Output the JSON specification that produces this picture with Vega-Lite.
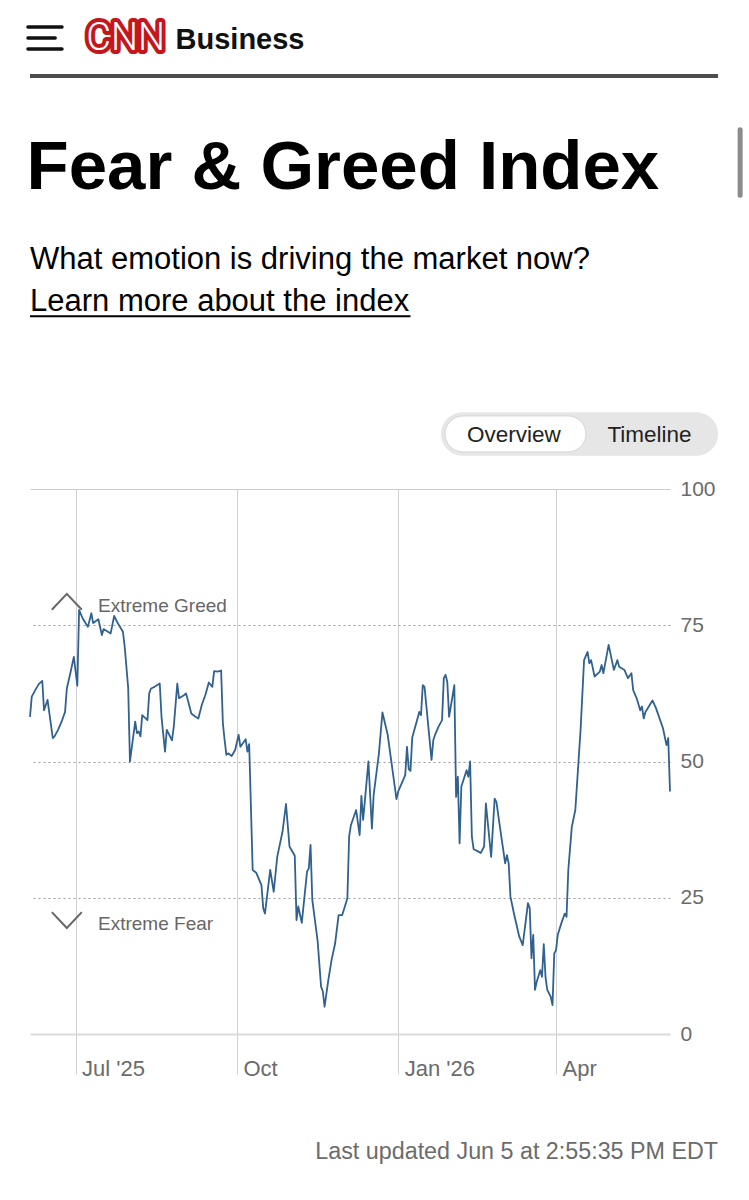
{
  "$schema": "https://vega.github.io/schema/vega-lite/v6.json",
  "width": 640,
  "height": 545,
  "autosize": {"type": "none"},
  "padding": {"left": 30, "top": 489, "right": 79, "bottom": 166},
  "background": "#ffffff",
  "config": {"font": "Liberation Sans", "view": {"stroke": null}},
  "layer": [
    {
      "data": {"values": [
        {"date": "2025-06-05", "value": 58.2}, {"date": "2025-06-06", "value": 61.9}, {"date": "2025-06-08", "value": 63.1},
        {"date": "2025-06-10", "value": 64.2}, {"date": "2025-06-12", "value": 64.8}, {"date": "2025-06-13", "value": 59.4},
        {"date": "2025-06-15", "value": 61.3}, {"date": "2025-06-18", "value": 54.3}, {"date": "2025-06-19", "value": 54.6},
        {"date": "2025-06-21", "value": 55.8}, {"date": "2025-06-23", "value": 57.3}, {"date": "2025-06-25", "value": 59.1},
        {"date": "2025-06-26", "value": 63.4}, {"date": "2025-06-28", "value": 66.2}, {"date": "2025-06-30", "value": 69.2},
        {"date": "2025-07-02", "value": 63.9}, {"date": "2025-07-03", "value": 77.8}, {"date": "2025-07-05", "value": 76.3},
        {"date": "2025-07-08", "value": 74.7}, {"date": "2025-07-10", "value": 77.2}, {"date": "2025-07-11", "value": 75.4},
        {"date": "2025-07-14", "value": 76.1}, {"date": "2025-07-16", "value": 73.2}, {"date": "2025-07-17", "value": 74.3},
        {"date": "2025-07-21", "value": 73.5}, {"date": "2025-07-23", "value": 76.7}, {"date": "2025-07-25", "value": 75.4},
        {"date": "2025-07-28", "value": 73.8}, {"date": "2025-07-29", "value": 71.1}, {"date": "2025-07-31", "value": 63.5},
        {"date": "2025-08-01", "value": 50.0}, {"date": "2025-08-04", "value": 57.3}, {"date": "2025-08-05", "value": 55.2},
        {"date": "2025-08-06", "value": 55.5}, {"date": "2025-08-07", "value": 54.6}, {"date": "2025-08-08", "value": 58.5},
        {"date": "2025-08-11", "value": 57.6}, {"date": "2025-08-12", "value": 62.5}, {"date": "2025-08-13", "value": 63.4},
        {"date": "2025-08-15", "value": 63.7}, {"date": "2025-08-18", "value": 64.3}, {"date": "2025-08-19", "value": 58.2},
        {"date": "2025-08-21", "value": 51.8}, {"date": "2025-08-22", "value": 55.8}, {"date": "2025-08-25", "value": 53.9},
        {"date": "2025-08-26", "value": 56.4}, {"date": "2025-08-28", "value": 64.3}, {"date": "2025-08-29", "value": 61.6},
        {"date": "2025-09-01", "value": 62.2}, {"date": "2025-09-02", "value": 62.5}, {"date": "2025-09-03", "value": 61.3},
        {"date": "2025-09-05", "value": 58.8}, {"date": "2025-09-07", "value": 58.3}, {"date": "2025-09-09", "value": 57.9},
        {"date": "2025-09-11", "value": 60.4}, {"date": "2025-09-13", "value": 62.2}, {"date": "2025-09-15", "value": 64.5},
        {"date": "2025-09-17", "value": 63.7}, {"date": "2025-09-18", "value": 66.6}, {"date": "2025-09-20", "value": 66.5},
        {"date": "2025-09-22", "value": 66.7}, {"date": "2025-09-23", "value": 57.0}, {"date": "2025-09-24", "value": 53.9},
        {"date": "2025-09-25", "value": 51.2}, {"date": "2025-09-26", "value": 51.5}, {"date": "2025-09-28", "value": 51.0},
        {"date": "2025-09-30", "value": 52.1}, {"date": "2025-10-02", "value": 54.9}, {"date": "2025-10-03", "value": 52.7},
        {"date": "2025-10-06", "value": 54.1}, {"date": "2025-10-07", "value": 51.8}, {"date": "2025-10-08", "value": 53.2},
        {"date": "2025-10-10", "value": 30.1}, {"date": "2025-10-12", "value": 29.6}, {"date": "2025-10-15", "value": 27.3},
        {"date": "2025-10-16", "value": 23.1}, {"date": "2025-10-17", "value": 22.1}, {"date": "2025-10-20", "value": 30.1},
        {"date": "2025-10-22", "value": 26.1}, {"date": "2025-10-24", "value": 32.5}, {"date": "2025-10-27", "value": 37.1},
        {"date": "2025-10-29", "value": 42.2}, {"date": "2025-10-31", "value": 34.4}, {"date": "2025-11-03", "value": 32.7},
        {"date": "2025-11-04", "value": 20.9}, {"date": "2025-11-05", "value": 23.4}, {"date": "2025-11-07", "value": 20.4},
        {"date": "2025-11-10", "value": 29.8}, {"date": "2025-11-11", "value": 30.4}, {"date": "2025-11-12", "value": 34.7},
        {"date": "2025-11-13", "value": 24.6}, {"date": "2025-11-16", "value": 17.2}, {"date": "2025-11-18", "value": 8.7},
        {"date": "2025-11-19", "value": 7.8}, {"date": "2025-11-20", "value": 5.0}, {"date": "2025-11-22", "value": 9.6},
        {"date": "2025-11-24", "value": 13.6}, {"date": "2025-11-26", "value": 16.6}, {"date": "2025-11-28", "value": 21.8},
        {"date": "2025-11-30", "value": 21.8}, {"date": "2025-12-01", "value": 22.8}, {"date": "2025-12-03", "value": 24.9},
        {"date": "2025-12-04", "value": 36.2}, {"date": "2025-12-05", "value": 38.3}, {"date": "2025-12-08", "value": 41.1},
        {"date": "2025-12-10", "value": 36.5}, {"date": "2025-12-11", "value": 43.7}, {"date": "2025-12-12", "value": 39.3},
        {"date": "2025-12-15", "value": 50.0}, {"date": "2025-12-17", "value": 37.7}, {"date": "2025-12-18", "value": 43.9},
        {"date": "2025-12-21", "value": 51.5}, {"date": "2025-12-23", "value": 59.0}, {"date": "2025-12-26", "value": 54.9},
        {"date": "2025-12-31", "value": 43.1}, {"date": "2026-01-01", "value": 44.5}, {"date": "2026-01-05", "value": 47.5},
        {"date": "2026-01-06", "value": 52.7}, {"date": "2026-01-07", "value": 48.6}, {"date": "2026-01-08", "value": 48.3},
        {"date": "2026-01-09", "value": 54.4}, {"date": "2026-01-12", "value": 57.9}, {"date": "2026-01-13", "value": 59.1},
        {"date": "2026-01-14", "value": 58.5}, {"date": "2026-01-15", "value": 64.0}, {"date": "2026-01-16", "value": 63.7},
        {"date": "2026-01-20", "value": 50.3}, {"date": "2026-01-21", "value": 53.9}, {"date": "2026-01-22", "value": 54.9},
        {"date": "2026-01-24", "value": 56.4}, {"date": "2026-01-26", "value": 57.6}, {"date": "2026-01-27", "value": 65.3},
        {"date": "2026-01-28", "value": 65.9}, {"date": "2026-01-29", "value": 64.6}, {"date": "2026-01-30", "value": 58.2},
        {"date": "2026-02-02", "value": 64.0}, {"date": "2026-02-03", "value": 43.5}, {"date": "2026-02-04", "value": 47.2},
        {"date": "2026-02-05", "value": 35.0}, {"date": "2026-02-06", "value": 45.4}, {"date": "2026-02-09", "value": 48.4},
        {"date": "2026-02-10", "value": 47.2}, {"date": "2026-02-11", "value": 50.0}, {"date": "2026-02-12", "value": 36.2},
        {"date": "2026-02-13", "value": 33.9}, {"date": "2026-02-15", "value": 33.6}, {"date": "2026-02-17", "value": 33.2},
        {"date": "2026-02-19", "value": 34.4}, {"date": "2026-02-20", "value": 42.3}, {"date": "2026-02-23", "value": 32.5},
        {"date": "2026-02-25", "value": 43.2}, {"date": "2026-02-26", "value": 42.6}, {"date": "2026-02-28", "value": 38.0},
        {"date": "2026-03-03", "value": 31.3}, {"date": "2026-03-04", "value": 32.8}, {"date": "2026-03-05", "value": 31.3},
        {"date": "2026-03-06", "value": 25.2}, {"date": "2026-03-08", "value": 22.1}, {"date": "2026-03-11", "value": 17.9},
        {"date": "2026-03-13", "value": 16.3}, {"date": "2026-03-16", "value": 24.0}, {"date": "2026-03-17", "value": 23.1},
        {"date": "2026-03-18", "value": 13.9}, {"date": "2026-03-19", "value": 18.2}, {"date": "2026-03-20", "value": 8.1},
        {"date": "2026-03-21", "value": 9.6}, {"date": "2026-03-23", "value": 11.7}, {"date": "2026-03-24", "value": 10.5},
        {"date": "2026-03-25", "value": 16.5}, {"date": "2026-03-26", "value": 10.5}, {"date": "2026-03-27", "value": 8.1},
        {"date": "2026-03-29", "value": 6.8}, {"date": "2026-03-30", "value": 5.3}, {"date": "2026-03-31", "value": 14.8},
        {"date": "2026-04-01", "value": 15.4}, {"date": "2026-04-02", "value": 18.2}, {"date": "2026-04-04", "value": 20.3},
        {"date": "2026-04-06", "value": 22.1}, {"date": "2026-04-07", "value": 21.5}, {"date": "2026-04-08", "value": 30.1},
        {"date": "2026-04-10", "value": 38.0}, {"date": "2026-04-12", "value": 41.1}, {"date": "2026-04-15", "value": 55.8},
        {"date": "2026-04-17", "value": 68.6}, {"date": "2026-04-19", "value": 70.1}, {"date": "2026-04-20", "value": 68.0},
        {"date": "2026-04-21", "value": 68.6}, {"date": "2026-04-23", "value": 65.6}, {"date": "2026-04-26", "value": 66.5},
        {"date": "2026-04-27", "value": 67.7}, {"date": "2026-04-28", "value": 66.2}, {"date": "2026-05-01", "value": 71.4},
        {"date": "2026-05-04", "value": 66.8}, {"date": "2026-05-06", "value": 68.6}, {"date": "2026-05-07", "value": 67.4},
        {"date": "2026-05-10", "value": 66.8}, {"date": "2026-05-12", "value": 65.3}, {"date": "2026-05-14", "value": 66.2},
        {"date": "2026-05-15", "value": 63.1}, {"date": "2026-05-17", "value": 61.6}, {"date": "2026-05-19", "value": 59.4},
        {"date": "2026-05-20", "value": 60.1}, {"date": "2026-05-21", "value": 57.9}, {"date": "2026-05-22", "value": 59.1},
        {"date": "2026-05-26", "value": 61.2}, {"date": "2026-05-28", "value": 59.8}, {"date": "2026-06-01", "value": 56.1},
        {"date": "2026-06-03", "value": 53.0}, {"date": "2026-06-04", "value": 54.3}, {"date": "2026-06-05", "value": 44.5}
      ]},
      "mark": {"type": "line", "color": "#30618f", "strokeWidth": 1.8, "strokeJoin": "round"},
      "encoding": {
        "x": {
          "field": "date", "type": "temporal",
          "scale": {"type": "utc", "domain": [{"year": 2025, "month": 6, "date": 5, "utc": true}, {"year": 2026, "month": 6, "date": 5, "utc": true}]},
          "axis": {
            "title": null,
            "values": [
              {"year": 2025, "month": 7, "date": 1, "utc": true},
              {"year": 2025, "month": 10, "date": 1, "utc": true},
              {"year": 2026, "month": 1, "date": 1, "utc": true},
              {"year": 2026, "month": 4, "date": 1, "utc": true}
            ],
            "labelExpr": "utcFormat(datum.value, '%b') + (utcmonth(datum.value) % 6 == 0 ? \" '\" + utcFormat(datum.value, '%y') : '')",
            "grid": true, "gridColor": "#d0d0d0", "gridWidth": 1,
            "domain": true, "domainColor": "#dadada", "domainWidth": 2,
            "ticks": true, "tickSize": 40, "tickColor": "#d0d0d0", "tickWidth": 1,
            "labelAlign": "left", "labelBaseline": "alphabetic", "labelPadding": 1, "labelOffset": 6,
            "labelFontSize": 22, "labelColor": "#6b6b6b", "labelFlush": false, "labelOverlap": false
          }
        },
        "y": {
          "field": "value", "type": "quantitative",
          "scale": {"domain": [0, 100], "nice": false, "zero": false},
          "axis": {
            "title": null, "orient": "right", "values": [0, 25, 50, 75, 100],
            "domain": false, "ticks": false, "labelPadding": 10,
            "labelFontSize": 21, "labelColor": "#6b6b6b", "labelAlign": "left", "labelBaseline": "middle", "labelFlush": false,
            "grid": true,
            "gridColor": {"condition": {"test": "datum.value === 100", "value": "#cccccc"}, "value": "#9c9c9c"},
            "gridDash": {"condition": {"test": "datum.value === 100", "value": []}, "value": [2, 3]},
            "gridOpacity": {"condition": {"test": "datum.value === 0", "value": 0}, "value": 1}
          }
        }
      }
    },
    {
      "data": {"values": [{}]},
      "mark": {"type": "point", "shape": "M-1,0.53L0,-0.53L1,0.53", "size": 900, "filled": false, "stroke": "#666666", "strokeWidth": 2, "opacity": 1},
      "encoding": {
        "x": {"datum": {"year": 2025, "month": 6, "date": 26, "utc": true}, "type": "temporal"},
        "y": {"datum": 79.3, "type": "quantitative"}
      }
    },
    {
      "data": {"values": [{}]},
      "mark": {"type": "point", "shape": "M-1,-0.53L0,0.53L1,-0.53", "size": 900, "filled": false, "stroke": "#666666", "strokeWidth": 2, "opacity": 1},
      "encoding": {
        "x": {"datum": {"year": 2025, "month": 6, "date": 26, "utc": true}, "type": "temporal"},
        "y": {"datum": 20.9, "type": "quantitative"}
      }
    },
    {
      "data": {"values": [{"label": "Extreme Greed"}]},
      "mark": {"type": "text", "align": "left", "baseline": "alphabetic", "fontSize": 19, "color": "#666666"},
      "encoding": {
        "text": {"field": "label"},
        "x": {"datum": {"year": 2025, "month": 7, "date": 13, "hours": 19, "utc": true}, "type": "temporal"},
        "y": {"datum": 77.4, "type": "quantitative"}
      }
    },
    {
      "data": {"values": [{"label": "Extreme Fear"}]},
      "mark": {"type": "text", "align": "left", "baseline": "alphabetic", "fontSize": 19, "color": "#666666"},
      "encoding": {
        "text": {"field": "label"},
        "x": {"datum": {"year": 2025, "month": 7, "date": 13, "hours": 19, "utc": true}, "type": "temporal"},
        "y": {"datum": 19.1, "type": "quantitative"}
      }
    },
    {
      "data": {"values": [{}]},
      "mark": {"type": "point", "shape": "M-1,-0.65H1M-1,0H0.6M-1,0.65H1", "size": 1156, "filled": false, "stroke": "#111111", "strokeWidth": 3.5, "strokeCap": "round", "opacity": 1},
      "encoding": {
        "x": {"datum": {"year": 2025, "month": 6, "date": 13, "hours": 13, "utc": true}, "type": "temporal"},
        "y": {"datum": 182.75, "type": "quantitative"}
      }
    },
    {
      "data": {"values": [{"label": "CNN"}]},
      "mark": {"type": "text", "font": "Roboto", "fontWeight": 300, "fontSize": 38, "fill": "#c4161c", "stroke": "#c4161c", "strokeWidth": 8, "strokeJoin": "round", "align": "center", "baseline": "middle"},
      "encoding": {
        "text": {"field": "label"},
        "x": {"datum": {"year": 2025, "month": 7, "date": 29, "hours": 12, "utc": true}, "type": "temporal"},
        "y": {"datum": 182.6, "type": "quantitative"}
      }
    },
    {
      "data": {"values": [{"label": "CNN"}]},
      "mark": {"type": "text", "font": "Roboto", "fontWeight": 300, "fontSize": 38, "fill": "#ffffff", "align": "center", "baseline": "middle"},
      "encoding": {
        "text": {"field": "label"},
        "x": {"datum": {"year": 2025, "month": 7, "date": 29, "hours": 12, "utc": true}, "type": "temporal"},
        "y": {"datum": 182.6, "type": "quantitative"}
      }
    },
    {
      "data": {"values": [{"label": "Business"}]},
      "mark": {"type": "text", "fontSize": 29, "fontWeight": "bold", "color": "#111111", "align": "left", "baseline": "alphabetic"},
      "encoding": {
        "text": {"field": "label"},
        "x": {"datum": {"year": 2025, "month": 8, "date": 27, "utc": true}, "type": "temporal"},
        "y": {"datum": 180.7, "type": "quantitative"}
      }
    },
    {
      "data": {"values": [{}]},
      "mark": {"type": "rule", "color": "#4d4d4d", "strokeWidth": 4},
      "encoding": {
        "x": {"datum": {"year": 2025, "month": 6, "date": 5, "utc": true}, "type": "temporal"},
        "x2": {"datum": {"year": 2026, "month": 7, "date": 2, "hours": 10, "utc": true}},
        "y": {"datum": 175.8, "type": "quantitative"}
      }
    },
    {
      "data": {"values": [{}]},
      "mark": {"type": "rule", "color": "#8c8c8c", "strokeWidth": 5, "strokeCap": "round"},
      "encoding": {
        "x": {"datum": {"year": 2026, "month": 7, "date": 15, "utc": true}, "type": "temporal"},
        "y": {"datum": 165.9, "type": "quantitative"},
        "y2": {"datum": 153.9}
      }
    },
    {
      "data": {"values": [{"label": "Fear & Greed Index"}]},
      "mark": {"type": "text", "fontSize": 69, "fontWeight": "bold", "color": "#000000", "align": "left", "baseline": "alphabetic"},
      "encoding": {
        "text": {"field": "label"},
        "x": {"datum": {"year": 2025, "month": 6, "date": 3, "utc": true}, "type": "temporal"},
        "y": {"datum": 155.0, "type": "quantitative"}
      }
    },
    {
      "data": {"values": [{"label": "What emotion is driving the market now?"}]},
      "mark": {"type": "text", "fontSize": 31, "color": "#000000", "align": "left", "baseline": "alphabetic"},
      "encoding": {
        "text": {"field": "label"},
        "x": {"datum": {"year": 2025, "month": 6, "date": 5, "utc": true}, "type": "temporal"},
        "y": {"datum": 140.4, "type": "quantitative"}
      }
    },
    {
      "data": {"values": [{"label": "Learn more about the index"}]},
      "mark": {"type": "text", "fontSize": 31, "color": "#000000", "align": "left", "baseline": "alphabetic"},
      "encoding": {
        "text": {"field": "label"},
        "x": {"datum": {"year": 2025, "month": 6, "date": 5, "utc": true}, "type": "temporal"},
        "y": {"datum": 132.7, "type": "quantitative"}
      }
    },
    {
      "data": {"values": [{}]},
      "mark": {"type": "rule", "color": "#000000", "strokeWidth": 2},
      "encoding": {
        "x": {"datum": {"year": 2025, "month": 6, "date": 5, "utc": true}, "type": "temporal"},
        "x2": {"datum": {"year": 2026, "month": 1, "date": 8, "utc": true}},
        "y": {"datum": 131.7, "type": "quantitative"}
      }
    },
    {
      "data": {"values": [{}]},
      "mark": {"type": "rect", "color": "#e6e6e6", "cornerRadius": 22},
      "encoding": {
        "x": {"datum": {"year": 2026, "month": 1, "date": 25, "hours": 10, "utc": true}, "type": "temporal"},
        "x2": {"datum": {"year": 2026, "month": 7, "date": 2, "hours": 10, "utc": true}},
        "y": {"datum": 114.1, "type": "quantitative"},
        "y2": {"datum": 106.1}
      }
    },
    {
      "data": {"values": [{}]},
      "mark": {"type": "rect", "fill": "#ffffff", "stroke": "#d6d6d6", "strokeWidth": 1, "cornerRadius": 18},
      "encoding": {
        "x": {"datum": {"year": 2026, "month": 1, "date": 27, "hours": 17, "utc": true}, "type": "temporal"},
        "x2": {"datum": {"year": 2026, "month": 4, "date": 18, "hours": 2, "utc": true}},
        "y": {"datum": 113.4, "type": "quantitative"},
        "y2": {"datum": 106.8}
      }
    },
    {
      "data": {"values": [{"label": "Overview"}]},
      "mark": {"type": "text", "fontSize": 22.5, "color": "#222222", "align": "center", "baseline": "alphabetic"},
      "encoding": {
        "text": {"field": "label"},
        "x": {"datum": {"year": 2026, "month": 3, "date": 8, "utc": true}, "type": "temporal"},
        "y": {"datum": 108.6, "type": "quantitative"}
      }
    },
    {
      "data": {"values": [{"label": "Timeline"}]},
      "mark": {"type": "text", "fontSize": 22.5, "color": "#222222", "align": "center", "baseline": "alphabetic"},
      "encoding": {
        "text": {"field": "label"},
        "x": {"datum": {"year": 2026, "month": 5, "date": 24, "hours": 7, "utc": true}, "type": "temporal"},
        "y": {"datum": 108.6, "type": "quantitative"}
      }
    },
    {
      "data": {"values": [{"label": "Last updated Jun 5 at 2:55:35 PM EDT"}]},
      "mark": {"type": "text", "fontSize": 23.3, "color": "#6b6b6b", "align": "right", "baseline": "alphabetic"},
      "encoding": {
        "text": {"field": "label"},
        "x": {"datum": {"year": 2026, "month": 7, "date": 2, "hours": 10, "utc": true}, "type": "temporal"},
        "y": {"datum": -22.9, "type": "quantitative"}
      }
    }
  ]
}
